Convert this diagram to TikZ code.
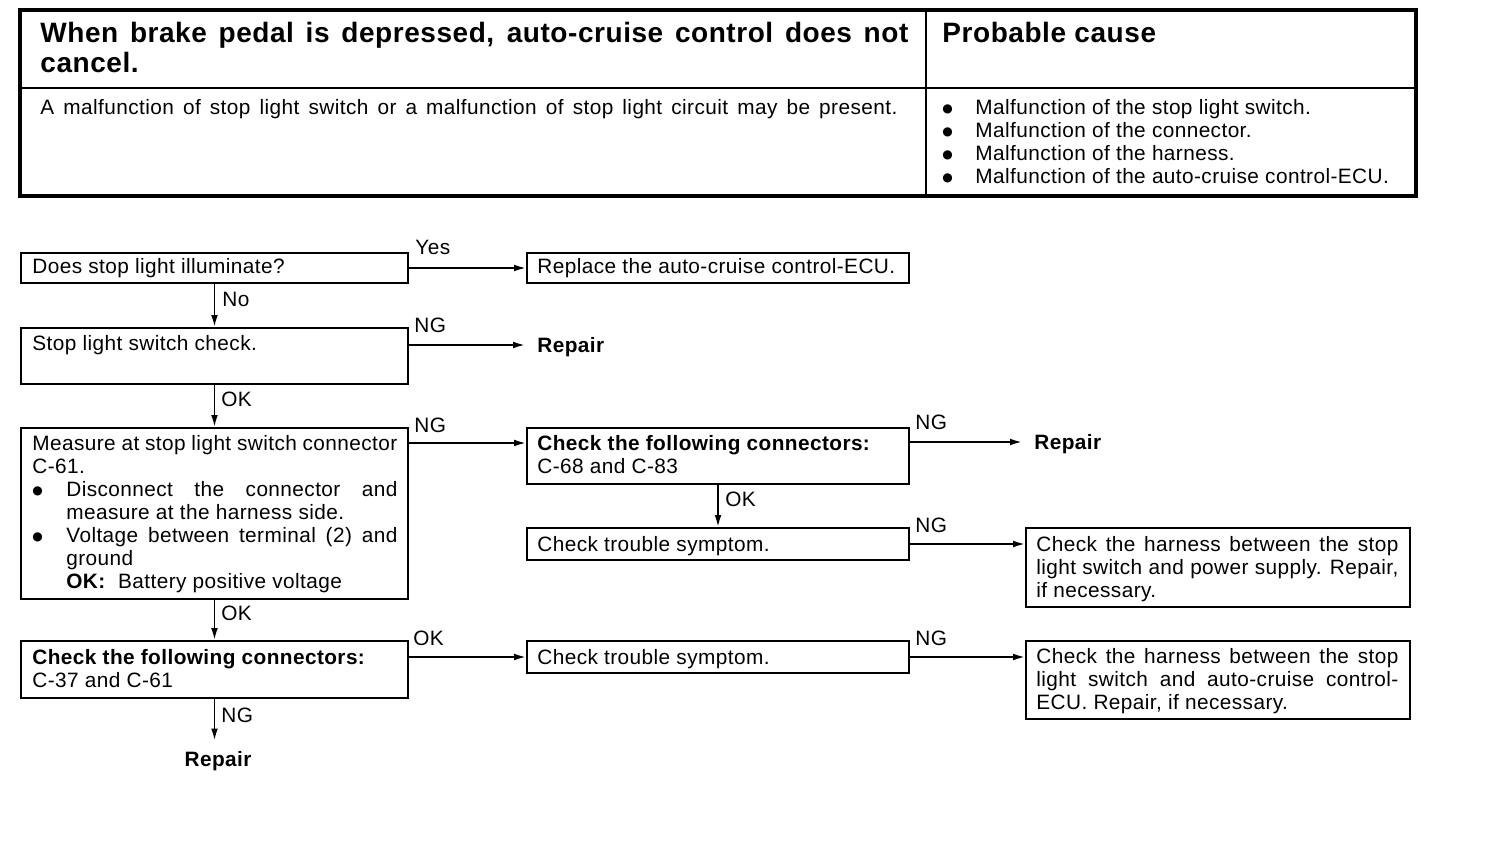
\documentclass[tikz,border=0pt]{standalone}
\usepackage{fontspec}
\setmainfont{Liberation Sans}[LetterSpace=2]
\newfontfamily\tfont{Liberation Sans}[LetterSpace=2]
\newfontfamily\dvfont{DejaVu Sans}
\usetikzlibrary{arrows.meta}
\newcommand\fb{\fontsize{10.4}{11.5}\selectfont}
\newcommand\jl[2]{\makebox[#1][s]{#2}}
\newcommand\bdot{\raisebox{1pt}{\dvfont\fontsize{6}{6}\selectfont ●}}
\newcommand\bl[1]{\makebox[17pt][l]{\bdot}#1}
\newcommand\blt[1]{\makebox[16.5pt][l]{\bdot}#1}
\begin{document}
\begin{tikzpicture}[x=0.5pt,y=-0.5pt,
  box/.style={draw, line width=1pt, inner sep=0pt, anchor=north west},
  arr/.style={-{Latex[length=6pt,width=3.4pt]}, line width=0.9pt},
  txt/.style={anchor=base west, inner sep=0pt, font=\fb},
  lab/.style={anchor=base west, inner sep=0pt, font=\fb}]
\useasboundingbox (0,0) rectangle (1504,862);
% ---------- table ----------
\draw[line width=1.6pt] (20,10) rectangle (1416,196);
\draw[line width=0.9pt] (20,88) -- (1416,88);
\draw[line width=0.7pt] (926,10) -- (926,196);
\node[anchor=base west, inner sep=0pt] (t1) at (40,42) {\parbox[t]{434pt}{\tfont\bfseries\fontsize{14}{15}\selectfont
  \jl{434pt}{When brake pedal is depressed, auto-cruise control does not}\\cancel.}};
\node[anchor=base west, inner sep=0pt, font={\tfont\bfseries\fontsize{14}{15}\selectfont}] (t2) at (942,42) {Probable cause};
\node[txt] (t3) at (40,114) {\jl{428.5pt}{A malfunction of stop light switch or a malfunction of stop light circuit may be present.}};
\node[txt] (t4) at (942,114) {\parbox[t]{230pt}{\fb
  \blt{Malfunction of the stop light switch.}\\
  \blt{Malfunction of the connector.}\\
  \blt{Malfunction of the harness.}\\
  \blt{Malfunction of the auto-cruise control-ECU.}}};
% ---------- boxes ----------
\node[box, minimum width=387*0.5pt, minimum height=30*0.5pt] (b1) at (20,252) {};
\node[box, minimum width=382*0.5pt, minimum height=30*0.5pt] (r1) at (526,252) {};
\node[box, minimum width=387*0.5pt, minimum height=56*0.5pt] (b2) at (20,327) {};
\node[box, minimum width=387*0.5pt, minimum height=171*0.5pt] (b3) at (20,427) {};
\node[box, minimum width=382*0.5pt, minimum height=56*0.5pt] (b4) at (526,427) {};
\node[box, minimum width=382*0.5pt, minimum height=32*0.5pt] (b5) at (526,527) {};
\node[box, minimum width=384*0.5pt, minimum height=79*0.5pt] (b6) at (1025,527) {};
\node[box, minimum width=387*0.5pt, minimum height=57*0.5pt] (b7) at (20,640) {};
\node[box, minimum width=382*0.5pt, minimum height=32*0.5pt] (b8) at (526,640) {};
\node[box, minimum width=384*0.5pt, minimum height=78*0.5pt] (b9) at (1025,640) {};
% ---------- texts ----------
\node[txt] (tb1) at (32,273) {Does stop light illuminate?};
\node[txt] (tr1) at (537,273) {Replace the auto-cruise control-ECU.};
\node[txt] (tb2) at (32,350) {Stop light switch check.};
\node[txt, font=\fb\bfseries] (rep1) at (537,352) {Repair};
\node[txt] (tb3) at (32,450) {\parbox[t]{182.5pt}{\fb
  Measure at stop light switch connector\\
  C-61.\\
  \bl{\jl{165.5pt}{Disconnect the connector and}}\\
  \hspace*{17pt}measure at the harness side.\\
  \bl{\jl{165.5pt}{Voltage between terminal (2) and}}\\
  \hspace*{17pt}ground\\
  \hspace*{17pt}\textbf{OK:}\ \ Battery positive voltage}};
\node[txt] (tb4) at (537,450) {\parbox[t]{185pt}{\fb
  \textbf{Check the following connectors:}\\ C-68 and C-83}};
\node[txt, font=\fb\bfseries] (rep2) at (1034,449) {Repair};
\node[txt] (tb5) at (537,551) {Check trouble symptom.};
\node[txt] (tb6) at (1036,551) {\parbox[t]{181pt}{\fb
  \jl{181pt}{Check the harness between the stop}\\
  \jl{181pt}{light switch and power supply. Repair,}\\
  if necessary.}};
\node[txt] (tb7) at (32,664) {\parbox[t]{185pt}{\fb
  \textbf{Check the following connectors:}\\ C-37 and C-61}};
\node[txt] (tb8) at (537,664) {Check trouble symptom.};
\node[txt] (tb9) at (1036,663) {\parbox[t]{181pt}{\fb
  \jl{181pt}{Check the harness between the stop}\\
  \jl{181pt}{light switch and auto-cruise control-}\\
  ECU. Repair, if necessary.}};
\node[anchor=base, inner sep=0pt, font=\fb\bfseries] (rep3) at (218,766) {Repair};
% ---------- connectors ----------
\coordinate (c2) at ([yshift=-9pt]b2.north east);
\coordinate (c3) at ([yshift=-8pt]b3.north east);
\coordinate (c4) at ([yshift=-7.5pt]b4.north east);
\coordinate (c7) at ([yshift=-8.5pt]b7.north east);
\draw[arr] (b1.east) -- (r1.west);
\draw[arr, shorten >=6pt] (c2) -- (c2 -| rep1.west);
\draw[arr] (c3) -- (c3 -| b4.west);
\draw[arr, shorten >=6pt] (c4) -- (c4 -| rep2.west);
\draw[arr] (b5.east) -- (b5.east -| b6.west);
\draw[arr] (c7) -- (c7 -| b8.west);
\draw[arr] (b8.east) -- (b8.east -| b9.west);
\draw[arr] (b1.south) -- (b2.north);
\draw[arr] (b2.south) -- (b3.north);
\draw[arr] (b3.south) -- (b7.north);
\draw[arr] (b4.south) -- (b5.north);
\draw[arr, shorten >=5pt] (b7.south) -- (b7.south |- rep3.north);
% ---------- labels ----------
\node[lab] (lyes) at (415,254) {Yes};
\node[lab] (lno) at (222,306) {No};
\node[lab] (lng1) at (414,332) {NG};
\node[lab] (lok1) at (221,406) {OK};
\node[lab] (lng2) at (414,432) {NG};
\node[lab] (lng3) at (915,429) {NG};
\node[lab] (lok2) at (725,506) {OK};
\node[lab] (lng4) at (915,532) {NG};
\node[lab] (lok3) at (221,620) {OK};
\node[lab] (lok4) at (413,645) {OK};
\node[lab] (lng5) at (915,645) {NG};
\node[lab] (lng6) at (221,722) {NG};
\end{tikzpicture}
\end{document}
